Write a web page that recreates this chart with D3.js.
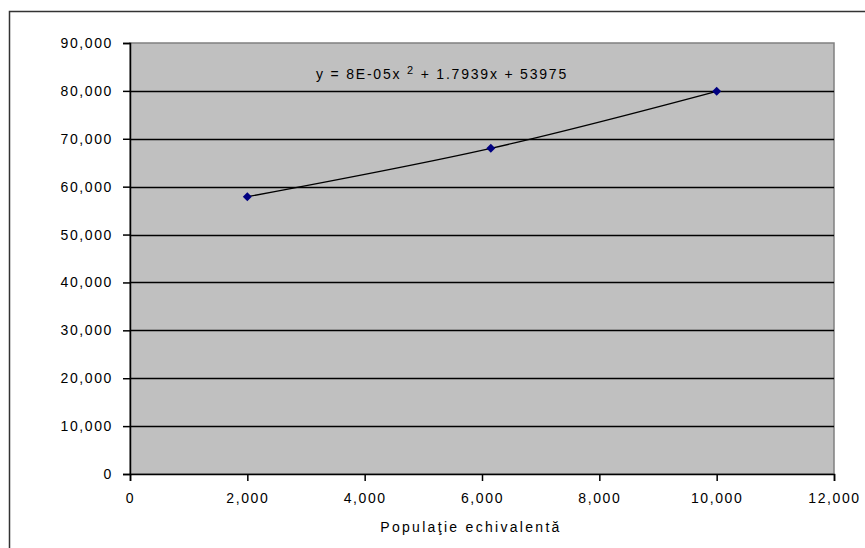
<!DOCTYPE html>
<html>
<head>
<meta charset="utf-8">
<script src="https://cdn.jsdelivr.net/npm/d3@7"></script>
<style>
  body { margin: 0; background: #fff; }
  text { font-family: "Liberation Sans", Arial, sans-serif; fill: #000; }
</style>
</head>
<body>
<div id="chart"></div>
<script>
// data
var popX = [2000, 6150, 10000];
var valY = [57900, 68000, 79900];
var xTicks = [0, 2000, 4000, 6000, 8000, 10000, 12000];
var yTicks = [0, 10000, 20000, 30000, 40000, 50000, 60000, 70000, 80000, 90000];
var xTitle = "Populaţie echivalentă";
var eqText = ["y = 8E-05x ", "2", " + 1.7939x + 53975"];

function chart(){
    var cfg = { w: 865, h: 548, left: 130, top: 43, right: 834, bottom: 474 };

    var svg = d3.select("#chart")
        .append("svg")
        .attr("width", cfg.w)
        .attr("height", cfg.h);

    // outer chart frame (right/bottom cut off by the picture)
    svg.append("rect")
        .attr("x", 9.5).attr("y", 11.5)
        .attr("width", 900).attr("height", 600)
        .attr("fill", "#fff")
        .attr("stroke", "#333")
        .attr("stroke-width", 1.5);

    var x = d3.scaleLinear().domain([0, 12000]).range([cfg.left, cfg.right]);
    var y = d3.scaleLinear().domain([0, 90000]).range([cfg.bottom, cfg.top]);

    // plot area
    svg.append("rect")
        .attr("x", cfg.left).attr("y", cfg.top)
        .attr("width", cfg.right - cfg.left)
        .attr("height", cfg.bottom - cfg.top)
        .attr("fill", "#c0c0c0")
        .attr("stroke", "#808080")
        .attr("stroke-width", 1.5);

    // gridlines
    svg.append("g")
        .selectAll("line")
        .data(yTicks.filter(function(d){ return d > 0 && d < 90000; }))
        .enter()
        .append("line")
        .attr("x1", cfg.left).attr("x2", cfg.right)
        .attr("y1", function(d){ return Math.round(y(d)) + 0.5; })
        .attr("y2", function(d){ return Math.round(y(d)) + 0.5; })
        .attr("stroke", "#000")
        .attr("stroke-width", 1.4);

    var fmt = d3.format(",");

    // y axis
    var yAxis = svg.append("g")
        .attr("transform", "translate(" + cfg.left + ",0)")
        .call(d3.axisLeft(y).tickValues(yTicks).tickFormat(fmt).tickSize(7).tickPadding(10));
    // x axis
    var xAxis = svg.append("g")
        .attr("transform", "translate(0," + cfg.bottom + ")")
        .call(d3.axisBottom(x).tickValues(xTicks).tickFormat(fmt).tickSize(7).tickPadding(9));

    [yAxis, xAxis].forEach(function(a){
        a.select(".domain").attr("stroke", "#000").attr("stroke-width", 1.5);
        a.selectAll(".tick line").attr("stroke", "#000").attr("stroke-width", 1.5);
        a.selectAll("text")
            .style("font-family", "'Liberation Sans', Arial, sans-serif")
            .style("font-size", "14px")
            .style("letter-spacing", "1.6px")
            .attr("fill", "#000");
    });
    xAxis.selectAll("text").attr("dy", "0.95em");

    // points
    var pts = popX.map(function(d, i){ return [d, valY[i]]; });

    // trendline (polynomial-looking curve through the points)
    svg.append("path")
        .datum(pts)
        .attr("d", d3.line()
            .x(function(d){ return x(d[0]); })
            .y(function(d){ return y(d[1]); })
            .curve(d3.curveNatural))
        .attr("fill", "none")
        .attr("stroke", "#000")
        .attr("stroke-width", 1.3);

    svg.append("g")
        .selectAll("path")
        .data(pts)
        .enter()
        .append("path")
        .attr("transform", function(d){ return "translate(" + x(d[0]) + "," + y(d[1]) + ")"; })
        .attr("d", "M0,-4.5L4.5,0L0,4.5L-4.5,0Z")
        .attr("fill", "#000080");

    // trendline equation
    var eq = svg.append("text")
        .attr("x", 316)
        .attr("y", 79)
        .style("font-size", "14px")
        .style("letter-spacing", "1.8px");
    eq.append("tspan").text(eqText[0]);
    eq.append("tspan").attr("dy", -5).style("font-size", "11px").text(eqText[1]);
    eq.append("tspan").attr("dy", 5).text(eqText[2]);

    // x axis title
    svg.append("text")
        .attr("x", 471)
        .attr("y", 532)
        .attr("text-anchor", "middle")
        .style("font-size", "14px")
        .style("letter-spacing", "2.3px")
        .text(xTitle);
}

window.onload = chart;
</script>
</body>
</html>
